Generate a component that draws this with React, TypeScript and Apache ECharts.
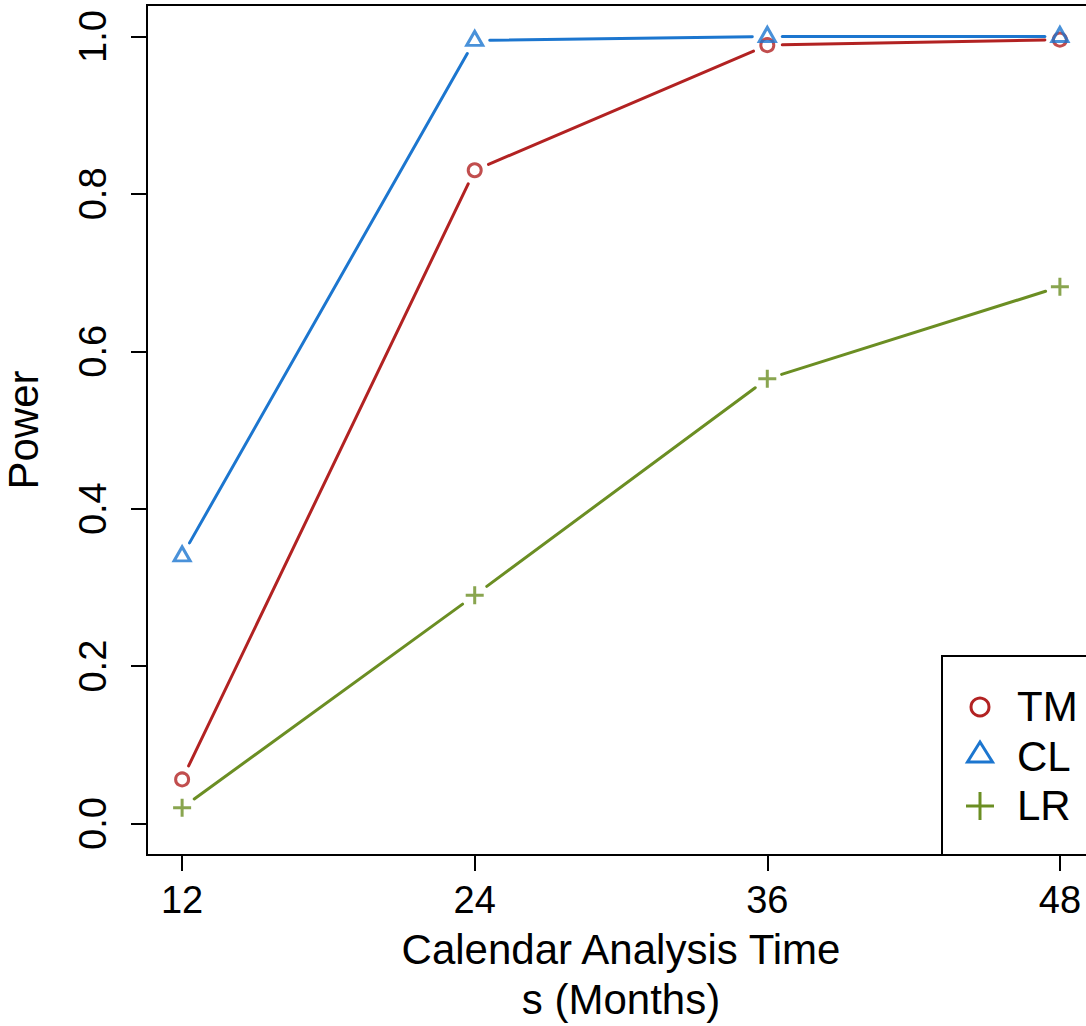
import React, { useEffect, useRef } from "react";
import * as echarts from "echarts";

const months = [12, 24, 36, 48];
const tmPower = [0.056, 0.83, 0.989, 0.996];
const clPower = [0.34, 0.995, 1.0, 1.0];
const lrPower = [0.02, 0.29, 0.565, 0.682];
const yTicks = [0, 0.2, 0.4, 0.6, 0.8, 1.0];
const seriesNames = ["TM", "CL", "LR"];
const seriesColors = ["#B22222", "#1C76CF", "#6B8E23"];

const FONT = "'Liberation Sans', Arial, Helvetica, sans-serif";
const PLUS = "path://M0,9L18,9M9,0L9,18";

function segmentsOf(values: number[]) {
  const out: number[][] = [];
  for (let i = 0; i < months.length - 1; i++) {
    out.push([months[i], values[i], months[i + 1], values[i + 1]]);
  }
  return out;
}

function gapLine(color: string) {
  return (params: any, api: any) => {
    const p1 = api.coord([api.value(0), api.value(1)]);
    const p2 = api.coord([api.value(2), api.value(3)]);
    const dx = p2[0] - p1[0];
    const dy = p2[1] - p1[1];
    const len = Math.sqrt(dx * dx + dy * dy);
    const gap = 15;
    if (len <= 2 * gap) return null;
    const ux = dx / len;
    const uy = dy / len;
    return {
      type: "line",
      shape: {
        x1: p1[0] + ux * gap,
        y1: p1[1] + uy * gap,
        x2: p2[0] - ux * gap,
        y2: p2[1] - uy * gap,
      },
      style: { stroke: color, lineWidth: 3, lineCap: "round" },
    };
  };
}

export default function App() {
  const ref = useRef<HTMLDivElement>(null);
  useEffect(() => {
    document.body.style.margin = "0";
    if (!ref.current) return;
    const chart = echarts.init(ref.current, null, { renderer: "svg" });
    const values = [tmPower, clPower, lrPower];
    const symbols: any[] = ["circle", "triangle", PLUS];
    const sizes: any[] = [13, [16, 14], 18];
    const offsets: any[] = [[0, 0], [0, -2], [0, 0]];
    const series: any[] = [];
    values.forEach((vals, k) => {
      series.push({
        type: "custom",
        name: seriesNames[k] + " line",
        renderItem: gapLine(seriesColors[k]),
        data: segmentsOf(vals),
        encode: { x: [0, 2], y: [1, 3] },
        z: 2,
        silent: true,
      });
      series.push({
        type: "scatter",
        name: seriesNames[k],
        data: months.map((m, i) => [m, vals[i]]),
        symbol: symbols[k],
        symbolSize: sizes[k],
        symbolOffset: offsets[k],
        itemStyle: {
          color: "transparent",
          borderColor: seriesColors[k],
          borderWidth: 3,
        },
        z: 3,
        silent: true,
      });
    });

    const lx = 980;
    const ly = [707, 757, 806];
    const legend: any[] = [
      {
        type: "rect",
        shape: { x: 942, y: 656, width: 200, height: 199 },
        style: { fill: "#fff", stroke: "#000", lineWidth: 2 },
        z: 10,
      },
      {
        type: "circle",
        shape: { cx: lx, cy: ly[0], r: 9 },
        style: { fill: "none", stroke: seriesColors[0], lineWidth: 3 },
        z: 11,
      },
      {
        type: "polygon",
        shape: {
          points: [
            [lx, ly[1] - 15],
            [lx + 12.5, ly[1] + 5],
            [lx - 12.5, ly[1] + 5],
          ],
        },
        style: { fill: "none", stroke: seriesColors[1], lineWidth: 3 },
        z: 11,
      },
      {
        type: "line",
        shape: { x1: lx - 14, y1: ly[2], x2: lx + 14, y2: ly[2] },
        style: { stroke: seriesColors[2], lineWidth: 3 },
        z: 11,
      },
      {
        type: "line",
        shape: { x1: lx, y1: ly[2] - 14, x2: lx, y2: ly[2] + 14 },
        style: { stroke: seriesColors[2], lineWidth: 3 },
        z: 11,
      },
    ];
    seriesNames.forEach((n, k) => {
      legend.push({
        type: "text",
        x: 1017,
        y: ly[k] - 1,
        style: {
          text: n,
          fill: "#000",
          font: `42px ${FONT}`,
          textVerticalAlign: "middle",
          textAlign: "left",
        },
        z: 11,
      });
    });

    chart.setOption({
      animation: false,
      backgroundColor: "#fff",
      textStyle: { fontFamily: FONT },
      grid: {
        left: 147,
        top: 5,
        width: 948,
        height: 850,
        show: true,
        borderColor: "#000",
        borderWidth: 2,
        backgroundColor: "transparent",
        containLabel: false,
        outerBoundsMode: "none",
      },
      xAxis: {
        type: "value",
        min: 10.56,
        max: 49.44,
        splitLine: { show: false },
        axisLine: { show: false, onZero: false },
        axisTick: {
          show: true,
          length: 16,
          customValues: months,
          lineStyle: { color: "#000", width: 2 },
        },
        axisLabel: {
          customValues: months,
          margin: 26,
          fontSize: 38,
          color: "#000",
          fontFamily: FONT,
          formatter: (v: number) => String(v),
        },
        name: "Calendar Analysis Time\ns (Months)",
        nameLocation: "middle",
        nameGap: 69,
        nameTextStyle: {
          fontSize: 42,
          color: "#000",
          lineHeight: 50,
          fontFamily: FONT,
          align: "center",
        },
      },
      yAxis: {
        type: "value",
        min: -0.04,
        max: 1.04,
        splitLine: { show: false },
        axisLine: { show: false, onZero: false },
        axisTick: {
          show: true,
          length: 16,
          customValues: yTicks,
          lineStyle: { color: "#000", width: 2 },
        },
        axisLabel: {
          customValues: yTicks,
          rotate: 90,
          margin: 35,
          fontSize: 38,
          color: "#000",
          fontFamily: FONT,
          formatter: (v: number) => v.toFixed(1),
        },
        name: "Power",
        nameLocation: "middle",
        nameRotate: 90,
        nameGap: 103,
        nameTextStyle: { fontSize: 42, color: "#000", fontFamily: FONT },
      },
      graphic: legend,
      series,
    });
    return () => chart.dispose();
  }, []);
  return <div ref={ref} style={{ width: 1086, height: 1026 }} />;
}
